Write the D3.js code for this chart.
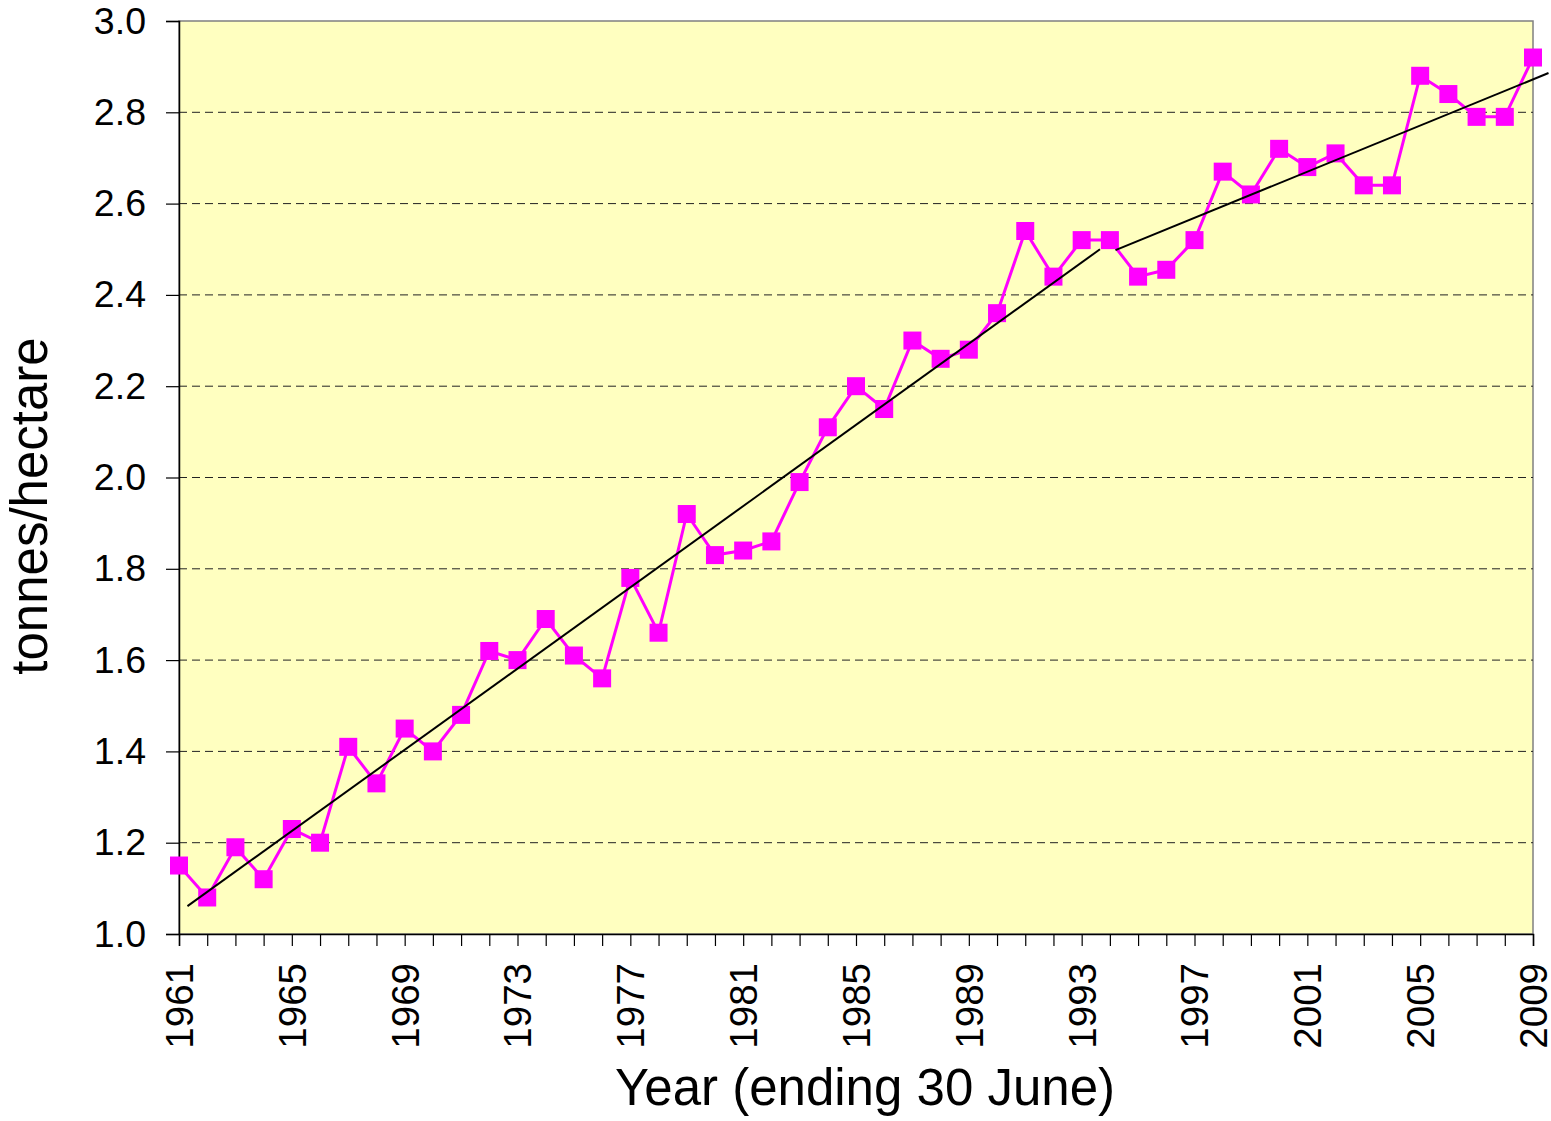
<!DOCTYPE html>
<html>
<head>
<meta charset="utf-8">
<script src="https://cdn.jsdelivr.net/npm/d3@7"></script>
<style>
  html, body { margin: 0; padding: 0; background: #fff; }
  text { font-family: "Liberation Sans", Arial, sans-serif; fill: #000; }
</style>
</head>
<body>
<div id="chart"></div>
<script>
// Yield per year (tonnes/hectare)
const years = [1961, 1962, 1963, 1964, 1965, 1966, 1967, 1968, 1969, 1970,
    1971, 1972, 1973, 1974, 1975, 1976, 1977, 1978, 1979, 1980,
    1981, 1982, 1983, 1984, 1985, 1986, 1987, 1988, 1989, 1990,
    1991, 1992, 1993, 1994, 1995, 1996, 1997, 1998, 1999, 2000,
    2001, 2002, 2003, 2004, 2005, 2006, 2007, 2008, 2009];
const yields = [1.15, 1.08, 1.19, 1.12, 1.23, 1.20, 1.41, 1.33, 1.45, 1.40,
    1.48, 1.62, 1.60, 1.69, 1.61, 1.56, 1.78, 1.66, 1.92, 1.83,
    1.84, 1.86, 1.99, 2.11, 2.20, 2.15, 2.30, 2.26, 2.28, 2.36,
    2.54, 2.44, 2.52, 2.52, 2.44, 2.455, 2.52, 2.67, 2.62, 2.72,
    2.68, 2.71, 2.64, 2.64, 2.88, 2.84, 2.79, 2.79, 2.92];

// Two linear trend segments (end points)
const trendEarly = [{ year: 1961.3, value: 1.061 }, { year: 1993.65, value: 2.500 }];
const trendLate = [{ year: 1994.2, value: 2.498 }, { year: 2009.55, value: 2.886 }];

// Tick labels
const xTickYears = [1961, 1965, 1969, 1973, 1977, 1981, 1985, 1989, 1993, 1997, 2001, 2005, 2009];
const yTicks = [1.0, 1.2, 1.4, 1.6, 1.8, 2.0, 2.2, 2.4, 2.6, 2.8, 3.0];

const data = years.map((y, i) => ({ year: y, value: yields[i] }));

const W = 1551, H = 1121;
const margin = { top: 21, right: 18, bottom: 187, left: 179 };
const width = W - margin.left - margin.right;
const height = H - margin.top - margin.bottom;

const svg = d3.select("#chart")
    .append("svg")
    .attr("width", W)
    .attr("height", H);

const g = svg.append("g")
    .attr("transform", `translate(${margin.left},${margin.top})`);

const xScale = d3.scaleLinear().domain([1961, 2009]).range([0, width]);
const yScale = d3.scaleLinear().domain([1.0, 3.0]).range([height, 0]);

// plot background
g.append("rect")
    .attr("width", width)
    .attr("height", height)
    .attr("fill", "#FFFFC0")
    .attr("stroke", "#808080")
    .attr("stroke-width", 1.5);

// dashed gridlines
g.append("g")
    .selectAll("line")
    .data(yTicks.filter(d => d > 1.0 && d < 3.0))
    .join("line")
    .attr("x1", 0)
    .attr("x2", width)
    .attr("y1", d => yScale(d))
    .attr("y2", d => yScale(d))
    .attr("stroke", "#222")
    .attr("stroke-width", 1)
    .attr("stroke-dasharray", "8,5");

// Y axis
const yAxis = d3.axisLeft(yScale)
    .tickValues(yTicks)
    .tickSize(13)
    .tickPadding(20)
    .tickFormat(d3.format(".1f"));

g.append("g")
    .call(yAxis)
    .call(a => a.select(".domain").attr("stroke", "#000").attr("stroke-width", 1.5))
    .call(a => a.selectAll(".tick line").attr("stroke", "#000").attr("stroke-width", 1.2))
    .call(a => a.selectAll(".tick text")
        .style("font-family", "'Liberation Sans', Arial, sans-serif")
        .style("font-size", "37.5px")
        .attr("fill", "#000"));

// X axis: a tick each year, labels every 4 years
const xAxis = d3.axisBottom(xScale)
    .tickValues(years)
    .tickSize(12)
    .tickFormat(d => xTickYears.includes(d) ? d : "");

g.append("g")
    .attr("transform", `translate(0,${height})`)
    .call(xAxis)
    .call(a => a.select(".domain").attr("stroke", "#000").attr("stroke-width", 1.5))
    .call(a => a.selectAll(".tick line").attr("stroke", "#000").attr("stroke-width", 1.2))
    .call(a => a.selectAll(".tick text")
        .style("font-family", "'Liberation Sans', Arial, sans-serif")
        .style("font-size", "38.5px")
        .attr("fill", "#000")
        .attr("text-anchor", "end")
        .attr("transform", "rotate(-90)")
        .attr("x", -29)
        .attr("y", 0)
        .attr("dy", "0.35em"));

// data line
const line = d3.line()
    .x(d => xScale(d.year))
    .y(d => yScale(d.value));

g.append("path")
    .datum(data)
    .attr("d", line)
    .attr("fill", "none")
    .attr("stroke", "#FF00FF")
    .attr("stroke-width", 3);

// square markers
const ms = 18;
g.append("g")
    .selectAll("rect")
    .data(data)
    .join("rect")
    .attr("x", d => xScale(d.year) - ms / 2)
    .attr("y", d => yScale(d.value) - ms / 2)
    .attr("width", ms)
    .attr("height", ms)
    .attr("fill", "#FF00FF");

// trend lines
[trendEarly, trendLate].forEach(seg => {
    g.append("path")
        .datum(seg)
        .attr("d", line)
        .attr("fill", "none")
        .attr("stroke", "#000")
        .attr("stroke-width", 2);
});

// axis titles
svg.append("text")
    .attr("x", 865)
    .attr("y", 1105)
    .attr("text-anchor", "middle")
    .style("font-size", "51px")
    .text("Year (ending 30 June)");

svg.append("text")
    .attr("transform", "translate(47,506) rotate(-90)")
    .attr("text-anchor", "middle")
    .style("font-size", "51px")
    .text("tonnes/hectare");
</script>
</body>
</html>
